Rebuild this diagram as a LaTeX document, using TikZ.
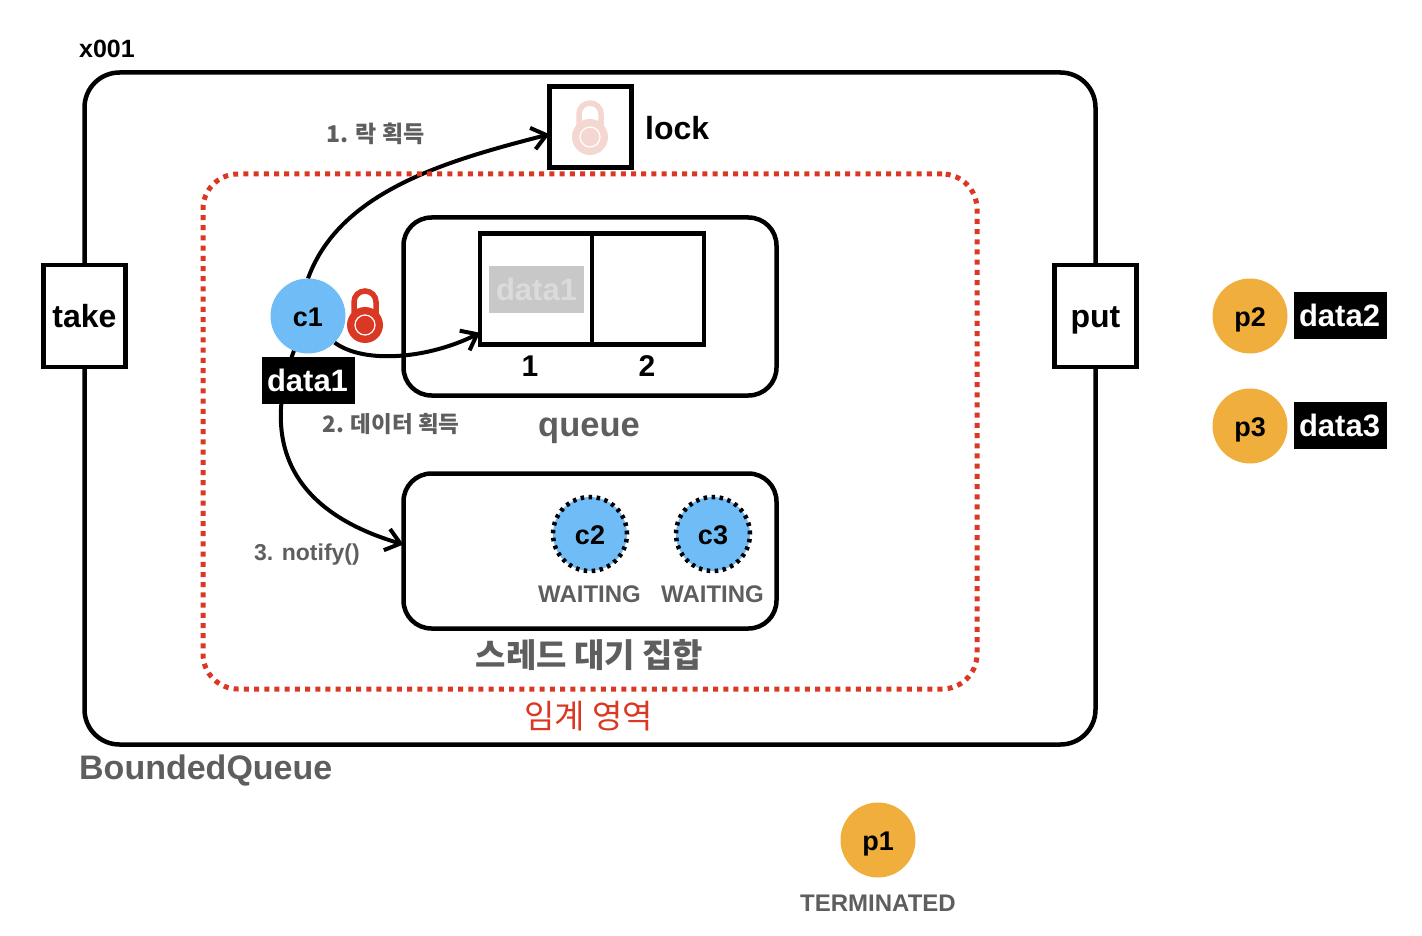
\documentclass[tikz,border=0pt]{standalone}
\usepackage{fontspec}
\setmainfont{Liberation Sans}
\newfontfamily\kor{Noto Sans CJK KR}
\usetikzlibrary{arrows.meta,backgrounds}
\definecolor{azul}{RGB}{112,188,246}
\definecolor{naranja}{RGB}{240,174,60}
\definecolor{rojo}{RGB}{219,56,36}
\definecolor{palido}{RGB}{245,215,209}
\definecolor{grisf}{RGB}{94,94,94}
\definecolor{grisd}{RGB}{200,200,200}
\newcommand{\fs}[1]{\fontsize{#1}{#1}\selectfont}
\newcommand{\candado}[3]{
  \draw[#3, line width=5.5pt] (#1-11,#2-8) -- (#1-11,#2-23) arc[start angle=180, end angle=360, radius=11] -- (#1+11,#2-8);
  \fill[#3] (#1,#2) circle[radius=18];
  \draw[white, line width=1.2pt] (#1,#2) circle[radius=10];
}
\tikzset{
  marco/.style={draw, line width=4.5pt, inner sep=0pt, outer sep=0pt, minimum width=#1},
  caja/.style={marco=373pt, rounded corners=28pt, minimum height=#1},
  puerta/.style={marco=82pt, fill=white, minimum height=102pt, text height=23pt, text depth=0pt, font=\fs{32}\bfseries},
  celda/.style={marco=112pt, minimum height=111pt},
  hilo/.style={circle, fill=azul, minimum size=75pt, inner sep=0pt, outer sep=0pt, text height=20pt, text depth=0pt, font=\fs{27}\bfseries},
  espera/.style={hilo, draw=black, line width=4.5pt, dash pattern=on 3.5pt off 4.5pt, minimum size=74pt},
  prod/.style={hilo, fill=naranja},
  dato/.style={fill=black, text=white, inner sep=0pt, outer sep=0pt, minimum width=93pt, minimum height=47pt, text height=22pt, text depth=0pt, font=\fs{31}\bfseries},
  et/.style={inner sep=0pt, text=grisf, font=\fs{24}\bfseries},
  etk/.style={inner sep=0pt, text=grisf, font=\kor\fs{23}\bfseries},
  fl/.style={-{Straight Barb[length=14pt,width=22pt]}, line width=4pt},
}
\begin{document}
\begin{tikzpicture}[x=1pt, y=-1pt]
  \useasboundingbox (0,0) rectangle (1422,936);
  \node[draw, line width=4.5pt, rounded corners=35pt, inner sep=0pt, minimum width=1011pt, minimum height=672pt] (bq) at (590,408.5) {};
  \node[draw=rojo, line width=5pt, dash pattern=on 5pt off 5.2pt, rounded corners=35pt, inner sep=0pt, minimum width=774pt, minimum height=515pt] (critica) at (590,431.5) {};
  \node[caja=178pt] (qbox) at (590,306.5) {};
  \node[caja=155pt] (wbox) at (590,551) {};
  \node[puerta] (take) at (84.5,316) {take};
  \node[puerta] (put) at (1095.5,316) {put};
  \node[marco=82pt, minimum height=81pt, fill=white] (lockbox) at (590.5,127) {};
  \candado{590}{137}{palido}
  \node[celda] (q1) at (536,289) {};
  \node[celda] (q2) at (648,289) {};
  \node[fill=grisd, inner sep=0pt, minimum width=95pt, minimum height=47pt, text=white!35!grisd, text height=22pt, text depth=0pt, font=\fs{31}\bfseries] (d0) at (536.5,289.5) {data1};
  \node[hilo] (c1) at (308,316) {c1};
  \candado{365}{325}{rojo}
  \node[dato] (d1) at (308.5,380) {\hspace{-2pt}data1};
  \node[espera] (c2) at (590,534) {c2};
  \node[espera] (c3) at (713,534) {c3};
  \node[prod] (p2) at (1250,316) {p2};
  \node[prod] (p3) at (1250,426) {p3};
  \node[prod] (p1) at (878,840) {p1};
  \node[dato] (d2) at (1340.5,315.5) {\hspace{-2pt}data2};
  \node[dato] (d3) at (1340.5,425.5) {\hspace{-2pt}data3};
  \node[inner sep=0pt, font=\fs{25}\bfseries] (addr) at (107,49) {x001};
  \node[inner sep=0pt, anchor=west, font=\fs{32}\bfseries] (locklab) at (645,128) {lock};
  \node[inner sep=0pt, font=\fs{30}\bfseries] (n1) at (530,366) {1};
  \node[inner sep=0pt, font=\fs{30}\bfseries] (n2) at (647,366) {2};
  \node[et, font=\fs{34.5}\bfseries] (qlab) at (589,431) {queue};
  \node[et, anchor=west, font=\fs{34}\bfseries] (bqlab) at (79,771) {BoundedQueue};
  \node[et] (w2) at (589.5,594) {WAITING};
  \node[et] (w3) at (712.5,594) {WAITING};
  \node[et] (term) at (878,903) {TERMINATED};
  \node[etk] (s1) at (375.5,134) {1. 락 획득};
  \node[etk, font=\kor\fs{22.5}\bfseries] (s2) at (391,424) {2. 데이터 획득};
  \node[et, font=\fs{23}\bfseries] (s3) at (307,555) {3. notify()};
  \node[inner sep=0pt, text=grisf, font=\kor\fs{33}\bfseries] (wlab) at (589.5,655) {스레드 대기 집합};
  \node[inner sep=0pt, text=rojo, font=\kor\fs{33}] (clab) at (588.5,716) {임계 영역};
  \begin{scope}[on background layer]
    \draw[fl] (c1.north) .. controls (340,190) and (450,160) .. (lockbox.190);
    \draw[fl] (c1.315) .. controls (365,365) and (430,358) .. (q1.218);
    \draw[fl] (c1.248) .. controls (268,420) and (270,505) .. (wbox.178);
  \end{scope}
\end{tikzpicture}
\end{document}
